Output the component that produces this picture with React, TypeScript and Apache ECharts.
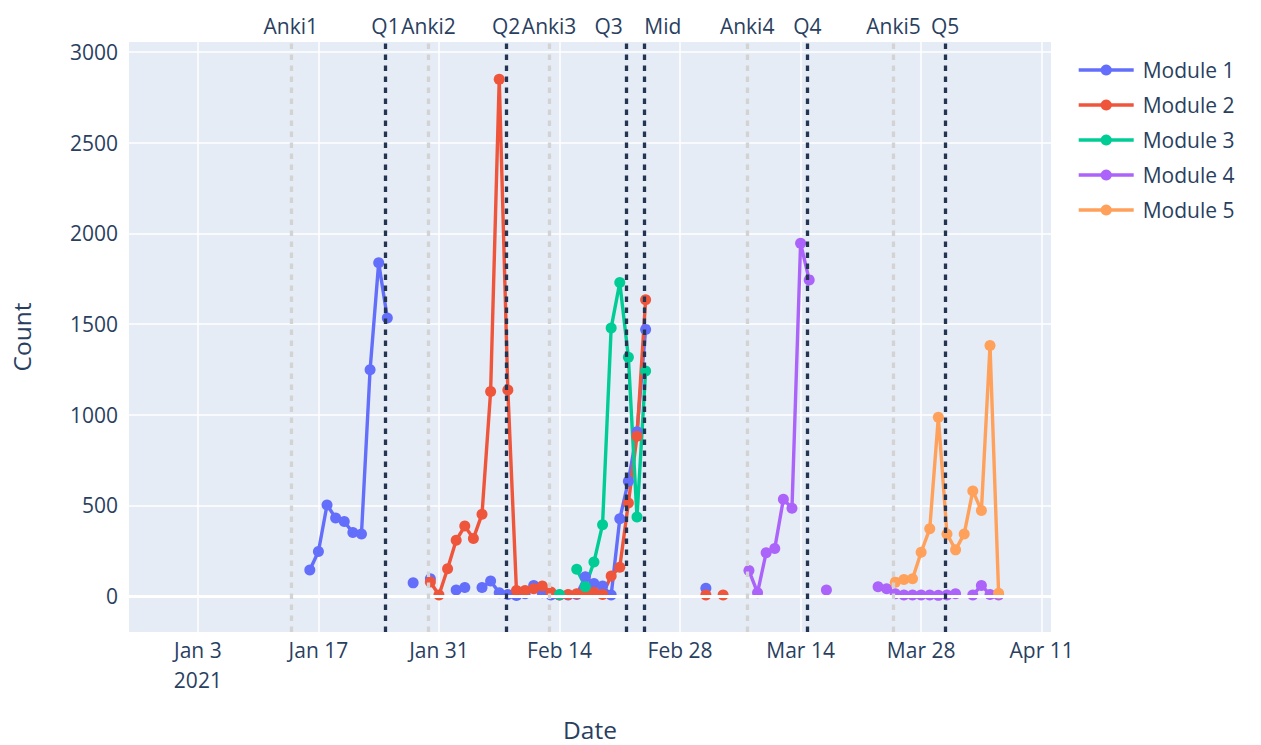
import React, { useEffect, useRef } from 'react';
import * as echarts from 'echarts';

const FONT = '"Open Sans", "Noto Sans", sans-serif';
const TEXT_COLOR = '#2a3f5f';

const seriesNames = ['Module 1', 'Module 2', 'Module 3', 'Module 4', 'Module 5'];
const seriesColors = ['#636EFA', '#EF553B', '#00CC96', '#AB63FA', '#FFA15A'];

const m1Dates = [
  '2021-01-16', '2021-01-17', '2021-01-18', '2021-01-19', '2021-01-20', '2021-01-21', '2021-01-22',
  '2021-01-23', '2021-01-24', '2021-01-25', '2021-01-26', '2021-01-28', '2021-01-29', '2021-01-30',
  '2021-01-31', '2021-02-02', '2021-02-03', '2021-02-04', '2021-02-05', '2021-02-06', '2021-02-07',
  '2021-02-08', '2021-02-09', '2021-02-10', '2021-02-11', '2021-02-12', '2021-02-13', '2021-02-14',
  '2021-02-15', '2021-02-16', '2021-02-17', '2021-02-18', '2021-02-19', '2021-02-20', '2021-02-21',
  '2021-02-22', '2021-02-23', '2021-02-24', '2021-02-25', '2021-03-03',
];
const m1Values = [
  143, 245, 502, 430, 410, 350, 342,
  1247, 1838, 1533, null, 72, null, 95,
  null, 33, 46, null, 46, 82, 18,
  8, 2, 12, 58, 18, 5, 5,
  5, 8, 106, 68, 55, 5, 425,
  633, 905, 1470, null, 42,
];

const m2Dates = [
  '2021-01-30', '2021-01-31', '2021-02-01', '2021-02-02', '2021-02-03', '2021-02-04', '2021-02-05',
  '2021-02-06', '2021-02-07', '2021-02-08', '2021-02-09', '2021-02-10', '2021-02-11', '2021-02-12',
  '2021-02-13', '2021-02-14', '2021-02-15', '2021-02-16', '2021-02-17', '2021-02-18', '2021-02-19',
  '2021-02-20', '2021-02-21', '2021-02-22', '2021-02-23', '2021-02-24', '2021-02-25', '2021-03-03',
  '2021-03-04', '2021-03-05',
];
const m2Values = [
  77, 5, 150, 307, 385, 317, 451,
  1128, 2850, 1136, 30, 30, 40, 55,
  22, 5, 8, 12, 25, 20, 8,
  110, 158, 513, 880, 1633, null, 5,
  null, 5,
];

const m3Dates = [
  '2021-02-14', '2021-02-15', '2021-02-16', '2021-02-17', '2021-02-18', '2021-02-19', '2021-02-20',
  '2021-02-21', '2021-02-22', '2021-02-23', '2021-02-24',
];
const m3Values = [8, null, 147, 50, 187, 393, 1478, 1728, 1316, 435, 1240];

const m4Dates = [
  '2021-03-08', '2021-03-09', '2021-03-10', '2021-03-11', '2021-03-12', '2021-03-13', '2021-03-14',
  '2021-03-15', '2021-03-16', '2021-03-17', '2021-03-18', '2021-03-23', '2021-03-24', '2021-03-25',
  '2021-03-26', '2021-03-27', '2021-03-28', '2021-03-29', '2021-03-30', '2021-03-31', '2021-04-01',
  '2021-04-02', '2021-04-03', '2021-04-04', '2021-04-05', '2021-04-06',
];
const m4Values = [
  140, 18, 238, 262, 533, 484, 1945,
  1743, null, 33, null, 50, 40, 12,
  5, 5, 5, 5, 3, 5, 12,
  null, 5, 58, 8, 5,
];

const m5Dates = [
  '2021-03-25', '2021-03-26', '2021-03-27', '2021-03-28', '2021-03-29', '2021-03-30', '2021-03-31',
  '2021-04-01', '2021-04-02', '2021-04-03', '2021-04-04', '2021-04-05', '2021-04-06',
];
const m5Values = [76, 90, 95, 241, 370, 986, 342, 254, 342, 579, 471, 1381, 15];

const moduleDates = [m1Dates, m2Dates, m3Dates, m4Dates, m5Dates];
const moduleValues = [m1Values, m2Values, m3Values, m4Values, m5Values];

const vlineLabels = ['Anki1', 'Q1', 'Anki2', 'Q2', 'Anki3', 'Q3', 'Mid', 'Anki4', 'Q4', 'Anki5', 'Q5'];
const vlineDates = [
  '2021-01-14', '2021-01-25', '2021-01-30', '2021-02-08', '2021-02-13', '2021-02-22',
  '2021-02-24', '2021-03-08', '2021-03-15', '2021-03-25', '2021-03-31',
];
// label anchoring: 'center' | 'right' (text ends at line) | 'left' (text starts at line)
const vlineAnchors = ['center', 'center', 'center', 'center', 'center', 'right', 'left', 'center', 'center', 'center', 'center'];
const VLINE_SHIFT_HOURS = -5;

const xTickDates = [
  '2021-01-03', '2021-01-17', '2021-01-31', '2021-02-14', '2021-02-28', '2021-03-14', '2021-03-28', '2021-04-11',
];
const X_MIN = '2020-12-26T00:00:00';
const X_MAX = '2021-04-12T02:00:00';
const Y_MIN = -199;
const Y_MAX = 3055;

const MONTHS = ['Jan', 'Feb', 'Mar', 'Apr', 'May', 'Jun', 'Jul', 'Aug', 'Sep', 'Oct', 'Nov', 'Dec'];

const ts = (s: string) => new Date(s.length === 10 ? s + 'T00:00:00' : s).getTime();

export default function App() {
  const ref = useRef<HTMLDivElement>(null);

  useEffect(() => {
    if (!ref.current) return;
    const chart = echarts.init(ref.current, undefined, { renderer: 'svg' });

    const firstTick = ts(xTickDates[0]);

    const dataSeries = seriesNames.map((name, i) => ({
      name,
      type: 'line',
      z: 2,
      data: moduleDates[i].map((d, j) => [ts(d), moduleValues[i][j]]),
      symbol: 'circle',
      symbolSize: 11,
      showSymbol: true,
      connectNulls: false,
      lineStyle: { color: seriesColors[i], width: 3.4 },
      itemStyle: { color: seriesColors[i], borderWidth: 0 },
      emphasis: { disabled: true },
    }));

    const zeroSeries = {
      name: '__zero',
      type: 'line',
      z: 1,
      data: [],
      silent: true,
      markLine: {
        silent: true,
        symbol: ['none', 'none'],
        label: { show: false },
        lineStyle: { color: '#ffffff', width: 3, type: 'solid' },
        data: [{ yAxis: 0 }],
      },
    };

    const vlineSeries = {
      name: '__vlines',
      type: 'line',
      z: 10,
      data: [],
      silent: true,
      markLine: {
        silent: true,
        symbol: ['none', 'none'],
        data: vlineLabels.map((label, i) => {
          const isAnki = label.startsWith('Anki');
          const anchor = vlineAnchors[i];
          return {
            xAxis: ts(vlineDates[i]) + VLINE_SHIFT_HOURS * 3600 * 1000,
            lineStyle: {
              color: isAnki ? '#d3d3d3' : '#243552',
              width: 3.3,
              type: [5.5, 5.5],
            },
            label: {
              show: true,
              position: 'end',
              formatter: label,
              color: TEXT_COLOR,
              fontFamily: FONT,
              fontSize: 21,
              distance: 6,
              offset: anchor === 'right' ? [-18, 0] : anchor === 'left' ? [19, 0] : [0, 0],
            },
          };
        }),
      },
    };

    chart.setOption({
      animation: false,
      backgroundColor: '#ffffff',
      textStyle: { fontFamily: FONT },
      grid: {
        left: 129,
        right: 210,
        top: 42,
        bottom: 113,
        show: true,
        backgroundColor: '#E5ECF6',
        borderWidth: 0,
        containLabel: false,
        outerBoundsMode: 'none',
      },
      legend: {
        data: seriesNames,
        orient: 'vertical',
        left: 1072,
        top: 53,
        itemWidth: 55,
        itemHeight: 14,
        itemGap: 11,
        lineStyle: { width: 3.4 },
        textStyle: {
          fontFamily: FONT,
          fontSize: 21,
          color: TEXT_COLOR,
          lineHeight: 24,
          padding: [0, 0, 0, 4],
        },
      },
      xAxis: {
        type: 'value',
        min: ts(X_MIN),
        max: ts(X_MAX),
        name: 'Date',
        nameLocation: 'middle',
        nameGap: 84,
        nameTextStyle: { fontFamily: FONT, fontSize: 24.5, color: TEXT_COLOR, lineHeight: 26 },
        axisLine: { show: false },
        axisTick: { show: false, customValues: xTickDates.map(ts) },
        splitLine: { show: true, lineStyle: { color: '#ffffff', width: 1.5 } },
        axisLabel: {
          customValues: xTickDates.map(ts),
          fontFamily: FONT,
          fontSize: 21,
          color: TEXT_COLOR,
          lineHeight: 30,
          margin: 3,
          hideOverlap: false,
          formatter: (val: number) => {
            const d = new Date(val);
            const s = MONTHS[d.getMonth()] + ' ' + d.getDate();
            return val === firstTick ? s + '\n' + d.getFullYear() : s;
          },
        },
      },
      yAxis: {
        type: 'value',
        min: Y_MIN,
        max: Y_MAX,
        splitNumber: 6,
        name: 'Count',
        nameLocation: 'middle',
        nameGap: 95,
        nameTextStyle: { fontFamily: FONT, fontSize: 24.5, color: TEXT_COLOR },
        axisLine: { show: false },
        axisTick: { show: false },
        splitLine: {
          show: true,
          showMinLine: false,
          showMaxLine: false,
          lineStyle: { color: '#ffffff', width: 1.5 },
        },
        axisLabel: {
          fontFamily: FONT,
          fontSize: 21,
          color: TEXT_COLOR,
          margin: 11,
          showMinLabel: false,
          showMaxLabel: false,
          formatter: (v: number) => String(Math.round(v)),
        },
      },
      series: [zeroSeries, ...dataSeries, vlineSeries],
    });

    return () => chart.dispose();
  }, []);

  return (
    <div
      ref={ref}
      style={{ position: 'fixed', left: 0, top: 0, width: 1261, height: 745, background: '#ffffff' }}
    />
  );
}
